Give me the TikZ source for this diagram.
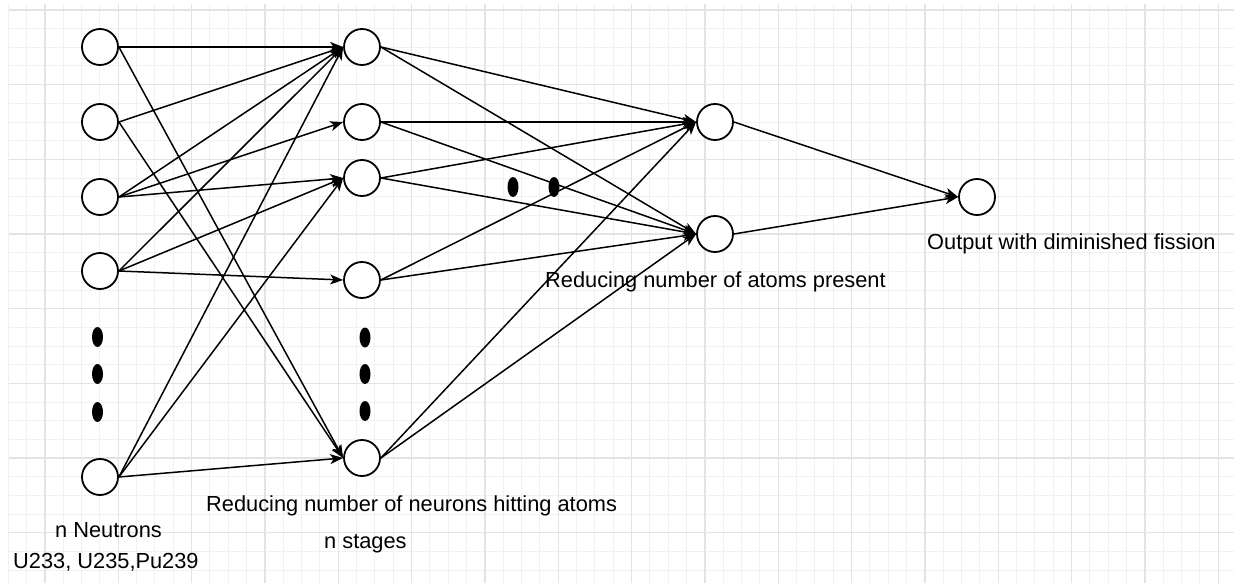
\documentclass[tikz,border=0pt]{standalone}
\usepackage{fontspec}
\setmainfont{Liberation Sans}
\usetikzlibrary{arrows.meta}
\definecolor{gmajor}{HTML}{E3E3E3}
\definecolor{gminor}{HTML}{F1F1F1}
\begin{document}
\begin{tikzpicture}[x=1pt,y=-1pt,
  neuron/.style={circle,draw=black,line width=1.8pt,minimum size=36pt,inner sep=0pt,fill=white},
  conn/.style={line width=1.5pt,-{Stealth[length=13pt,width=10pt,inset=3.5pt]}},
  lbl/.style={anchor=base west,inner sep=0pt,font=\fontsize{21.8}{26}\selectfont},
  minorline/.style={gminor,line width=1pt},
  majorline/.style={gmajor,line width=1.3pt}]
\useasboundingbox (0,0) rectangle (1234,583);
\fill[white] (0,0) rectangle (1234,583);
% grid
\begin{scope}
\clip (0,0) rectangle (1234,583);
\foreach \i in {0,...,67} {\draw[minorline] ({8.33+18.333*\i},4) -- ({8.33+18.333*\i},583);}
\foreach \j in {0,...,31} {\draw[minorline] (9,{10+18.667*\j}) -- (1234,{10+18.667*\j});}
\foreach \i in {0,...,16} {\draw[majorline] ({45+73.333*\i},4) -- ({45+73.333*\i},583);}
\foreach \j in {0,...,7} {\draw[majorline] (9,{10+74.667*\j}) -- (1234,{10+74.667*\j});}
\end{scope}
% nodes
\node[neuron] (a1) at (100,47) {};
\node[neuron] (a2) at (100,122) {};
\node[neuron] (a3) at (100,197) {};
\node[neuron] (a4) at (100,271) {};
\node[neuron] (a5) at (100,477) {};
\node[neuron] (b1) at (362,47) {};
\node[neuron] (b2) at (362,122) {};
\node[neuron] (b3) at (362,178) {};
\node[neuron] (b4) at (362,280) {};
\node[neuron] (b5) at (362,458) {};
\node[neuron] (c1) at (715,122) {};
\node[neuron] (c2) at (715,234) {};
\node[neuron] (d) at (977,197) {};
% dots
\foreach \y in {337,374,412} {\fill (97.5,\y) ellipse [x radius=5.5pt, y radius=10pt];}
\foreach \y in {337.5,374,411} {\fill (365,\y) ellipse [x radius=5.5pt, y radius=10pt];}
\fill (513,187) ellipse [x radius=5.5pt, y radius=10pt];
\fill (554,187) ellipse [x radius=5.5pt, y radius=10pt];
% connectors layer 1 -> 2
\draw[conn] (a1.east) -- (b1.west);
\draw[conn] (a1.east) -- (b5.west);
\draw[conn] (a2.east) -- (b1.west);
\draw[conn] (a2.east) -- (b5.west);
\draw[conn] (a3.east) -- (b1.west);
\draw[conn] (a3.east) -- (b2.west);
\draw[conn] (a3.east) -- (b3.west);
\draw[conn] (a4.east) -- (b1.west);
\draw[conn] (a4.east) -- (b3.west);
\draw[conn] (a4.east) -- (b4.west);
\draw[conn] (a5.east) -- (b1.west);
\draw[conn] (a5.east) -- (b3.west);
\draw[conn] (a5.east) -- (b5.west);
% layer 2 -> 3
\foreach \s in {b1,b2,b3,b4,b5} {
  \draw[conn] (\s.east) -- (c1.west);
  \draw[conn] (\s.east) -- (c2.west);
}
% layer 3 -> 4
\draw[conn] (c1.east) -- (d.west);
\draw[conn] (c2.east) -- (d.west);
% labels
\node[lbl] (l1) at (55,537) {n Neutrons};
\node[lbl] (l2) at (13,568) {U233, U235,Pu239};
\node[lbl] (l3) at (206,511) {Reducing number of neurons hitting atoms};
\node[lbl] (l4) at (324,548) {n stages};
\node[lbl] (l5) at (545,287) {Reducing number of atoms present};
\node[lbl] (l6) at (927,249) {Output with diminished fission};
\end{tikzpicture}
\end{document}
